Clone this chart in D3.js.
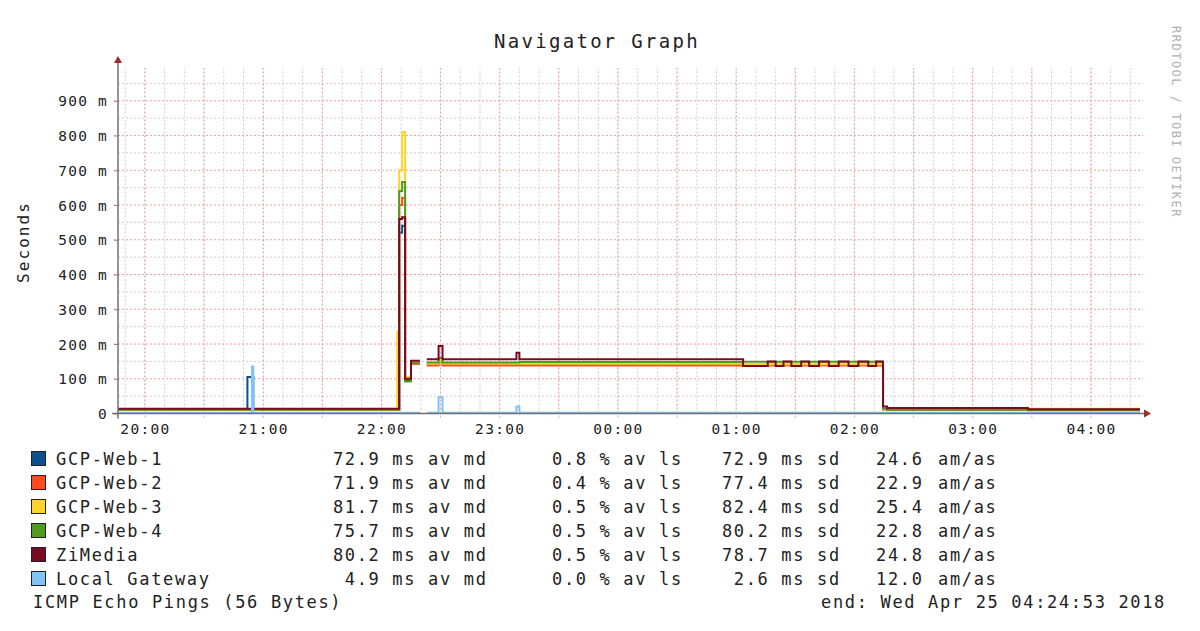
<!DOCTYPE html>
<html><head><meta charset="utf-8">
<script src="https://cdn.jsdelivr.net/npm/d3@7/dist/d3.min.js"></script>
<style>
html,body{margin:0;padding:0;background:#fff;}
svg{display:block;}
text{font-family:"DejaVu Sans Mono",monospace;fill:#222;}
</style></head>
<body>
<svg id="chart" width="1200" height="631"></svg>
<script>
// ---------- DATA ----------
const title = "Navigator Graph";
const yLabel = "Seconds";
const watermark = "RRDTOOL / TOBI OETIKER";
const footerLeft = "ICMP Echo Pings (56 Bytes)";
const footerRight = "end: Wed Apr 25 04:24:53 2018";

const seriesNames = ["GCP-Web-1","GCP-Web-2","GCP-Web-3","GCP-Web-4","ZiMedia","Local Gateway"];
const seriesColors = ["#0b4f8f","#ff4a1f","#ffd42a","#4f9a1f","#7a0a22","#80c4f5"];

const yTickValues = [0,100,200,300,400,500,600,700,800,900]; // ms
const xTickLabels = ["20:00","21:00","22:00","23:00","00:00","01:00","02:00","03:00","04:00"];
const startTime = "19:46:20";
const endTime = "04:24:53";

// step boundaries (value holds from this time until the next one)
const times = ["19:46:20","20:52","20:54:20","20:55","22:08","22:09","22:10:30","22:12","22:15","22:19:30",
  "22:23","22:29","22:31","23:08:30","23:10","01:03:30","01:16","01:20","01:24","01:28","01:33","01:37",
  "01:42","01:47","01:52","01:57","02:02","02:07","02:11","02:14:30","02:16:30","03:28","04:24:53"];

// values in ms, null = no data
const gcpWeb1 = [10,105,105,10,10,520,540,95,144,null,141,150,141,141,141,140,140,140,140,140,140,140,140,140,140,140,140,140,140,12,10,9,9];
const gcpWeb2 = [10,10,10,10,10,600,620,100,143,null,138,150,138,138,138,138,138,138,138,138,138,138,138,138,138,138,138,138,138,12,10,10,10];
const gcpWeb3 = [11,11,11,11,235,700,810,105,148,null,143,152,143,143,143,142,142,142,142,142,142,142,142,142,142,142,142,142,142,13,12,14,14];
const gcpWeb4 = [11,11,11,11,11,640,666,92,146,null,147,160,147,147,148,149,149,149,149,149,149,149,149,149,149,149,149,149,149,14,11,11,11];
const ziMedia = [14,14,14,14,14,560,565,100,152,null,156,194,156,175,156,137,150,137,150,137,150,137,150,137,150,137,150,137,150,20,16,12,12];
const localGw = [2,2,135,2,2,2,2,2,2,null,2,47,2,20,2,2,2,2,2,2,2,2,2,2,2,2,2,2,2,2,2,2,2];

// legend statistics
const avgMedian = [72.9,71.9,81.7,75.7,80.2,4.9];
const avgLoss = [0.8,0.4,0.5,0.5,0.5,0.0];
const stdDev = [72.9,77.4,82.4,80.2,78.7,2.6];
const amAs = [24.6,22.9,25.4,22.8,24.8,12.0];

// ---------- DRAW ----------
const allSeries = [gcpWeb1,gcpWeb2,gcpWeb3,gcpWeb4,ziMedia,localGw];
function toDate(s){
  const p = s.split(":").map(Number);
  const day = p[0] < 12 ? 25 : 24;
  return new Date(2018,3,day,p[0],p[1],p[2]||0);
}
const svg = d3.select("#chart");
const pLeft = 118, pRight = 1140, pTop = 66, pBottom = 413.5;

const x = d3.scaleTime().domain([toDate(startTime), toDate(endTime)]).range([pLeft, pRight]);
const y = d3.scaleLinear().domain([0,1000]).range([pBottom, pTop]);

// grid
const g = svg.append("g");
const minorX = d3.timeMinute.every(10).range(toDate(startTime), toDate(endTime));
const majorX = d3.timeMinute.every(30).range(toDate(startTime), toDate(endTime));
g.selectAll(".vmin").data(minorX).enter().append("line")
  .attr("x1",d=>x(d)).attr("x2",d=>x(d)).attr("y1",pBottom).attr("y2",pTop+2)
  .attr("stroke","#cfcfcf").attr("stroke-width",1).attr("stroke-dasharray","2,2");
const minorY = d3.range(50,1000,100);
g.selectAll(".hmin").data(minorY).enter().append("line")
  .attr("x1",pLeft).attr("x2",pRight+3).attr("y1",d=>y(d)).attr("y2",d=>y(d))
  .attr("stroke","#cfcfcf").attr("stroke-width",1).attr("stroke-dasharray","2,2");
g.selectAll(".vmaj").data(majorX).enter().append("line")
  .attr("x1",d=>x(d)).attr("x2",d=>x(d)).attr("y1",pBottom+4).attr("y2",pTop+2)
  .attr("stroke","#f4a0a0").attr("stroke-width",1).attr("stroke-dasharray","2,2");
g.selectAll(".hmaj").data(yTickValues.filter(v=>v>0)).enter().append("line")
  .attr("x1",pLeft-4).attr("x2",pRight+3).attr("y1",d=>y(d)).attr("y2",d=>y(d))
  .attr("stroke","#f4a0a0").attr("stroke-width",1).attr("stroke-dasharray","2,2");

// y axis labels
const yAxis = d3.axisLeft(y).tickValues(yTickValues).tickSize(4).tickPadding(6)
  .tickFormat(v => v === 0 ? "0" : v + " m");
const ya = svg.append("g").attr("transform",`translate(${pLeft},0)`).call(yAxis);
ya.select(".domain").remove();
ya.selectAll(".tick line").attr("stroke","#888");
ya.selectAll("text").style("font-family","DejaVu Sans Mono").style("font-size","14.5px")
  .style("letter-spacing","1.2px").attr("fill","#333").attr("dy","0.36em");

// x axis labels
const xAxis = d3.axisBottom(x).tickValues(xTickLabels.map(toDate)).tickSize(0).tickPadding(10)
  .tickFormat(d3.timeFormat("%H:%M"));
const xa = svg.append("g").attr("transform",`translate(0,${pBottom})`).call(xAxis);
xa.select(".domain").remove();
xa.selectAll("text").style("font-family","DejaVu Sans Mono").style("font-size","14.5px")
  .style("letter-spacing","1.3px").attr("fill","#333");

// lines
const line = d3.line().defined(d => d !== null).x(d => x(d.t)).y(d => y(d.v));
allSeries.forEach((vals,si) => {
  const pts = [];
  for (let i=0;i<times.length-1;i++){
    if (vals[i] === null){ pts.push(null); continue; }
    pts.push({t:toDate(times[i]),v:vals[i]});
    pts.push({t:toDate(times[i+1]),v:vals[i]});
  }
  svg.append("path").datum(pts).attr("d",line)
    .attr("fill","none").attr("stroke",seriesColors[si]).attr("stroke-width",2)
    .attr("stroke-linejoin","miter");
});

// axes lines + arrows
svg.append("line").attr("x1",pLeft).attr("x2",pLeft).attr("y1",pBottom+5).attr("y2",pTop-4)
  .attr("stroke","#707070").attr("stroke-width",1.5);
svg.append("line").attr("x1",pLeft-6).attr("x2",pRight+6).attr("y1",pBottom).attr("y2",pBottom)
  .attr("stroke","#707070").attr("stroke-width",1.5);
svg.append("path").attr("d",`M${pLeft-4},${pTop-3} L${pLeft+4},${pTop-3} L${pLeft},${pTop-10} Z`).attr("fill","#a02828");
svg.append("path").attr("d",`M${pRight+4},${pBottom-4} L${pRight+4},${pBottom+4} L${pRight+11},${pBottom} Z`).attr("fill","#a02828");

// title
svg.append("text").attr("x",597).attr("y",48).attr("text-anchor","middle")
  .style("font-size","19px").style("letter-spacing","2.3px").text(title);
// y label
svg.append("text").attr("transform","translate(29,242) rotate(-90)").attr("text-anchor","middle")
  .style("font-size","16px").style("letter-spacing","2.1px").text(yLabel);
// watermark
svg.append("text").attr("transform","translate(1172,26) rotate(90)")
  .style("font-size","12px").style("letter-spacing","1.5px").style("fill","#b0b0b0")
  .text(watermark);

// legend
const rowY = i => 465 + i*24;
const lg = svg.append("g").style("font-size","17px").style("letter-spacing","1.66px");
seriesNames.forEach((n,i) => {
  lg.append("rect").attr("x",31.5).attr("y",rowY(i)-13.5).attr("width",14).attr("height",14)
    .attr("fill",seriesColors[i]).attr("stroke","#222").attr("stroke-width",1);
  lg.append("text").attr("x",56).attr("y",rowY(i)).text(n);
  lg.append("text").attr("x",321).attr("y",rowY(i)).attr("xml:space","preserve")
    .text(avgMedian[i].toFixed(1).padStart(5," ") + " ms av md");
  lg.append("text").attr("x",552).attr("y",rowY(i)).attr("xml:space","preserve")
    .text(avgLoss[i].toFixed(1) + " % av ls");
  lg.append("text").attr("x",710).attr("y",rowY(i)).attr("xml:space","preserve")
    .text(stdDev[i].toFixed(1).padStart(5," ") + " ms sd");
  lg.append("text").attr("x",876).attr("y",rowY(i)).text(amAs[i].toFixed(1));
  lg.append("text").attr("x",938).attr("y",rowY(i)).text("am/as");
});
lg.append("text").attr("x",33).attr("y",608).text(footerLeft);
lg.append("text").attr("x",1166).attr("y",608).attr("text-anchor","end").text(footerRight);
</script>
</body></html>
